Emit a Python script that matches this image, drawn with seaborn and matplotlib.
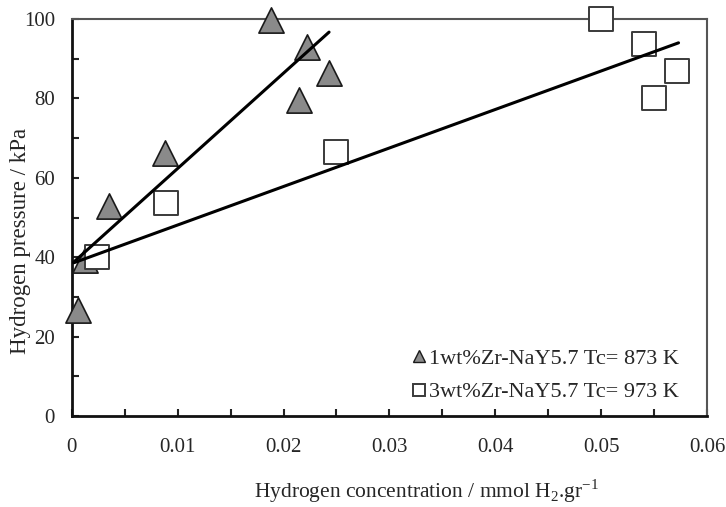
import matplotlib
matplotlib.use("Agg")
import matplotlib.pyplot as plt
import seaborn as sns
import pandas as pd
from matplotlib.ticker import FixedLocator, MultipleLocator
from matplotlib.lines import Line2D

sns.set_style("ticks")
plt.rcParams["font.family"] = ["Liberation Serif", "DejaVu Serif"]
plt.rcParams["mathtext.fontset"] = "custom"
plt.rcParams["mathtext.rm"] = "Liberation Serif"

# 1wt% Zr-NaY (Tc = 873 K)
conc_1wt = [0.0006, 0.0013, 0.0035, 0.0088, 0.0188, 0.0215, 0.0222, 0.0243]
pres_1wt = [26.7, 39.3, 53.0, 66.3, 99.8, 79.7, 93.0, 86.5]
# 3wt% Zr-NaY (Tc = 973 K)
conc_3wt = [0.0024, 0.0089, 0.0250, 0.0500, 0.0540, 0.0550, 0.0572]
pres_3wt = [40.0, 53.6, 66.6, 100.0, 93.6, 80.0, 87.0]

# linear trend lines (end points)
fit_x_1wt = [0.0002, 0.0243]
fit_y_1wt = [38.8, 96.7]
fit_x_3wt = [0.0002, 0.0573]
fit_y_3wt = [38.6, 94.0]

x_ticks = [0, 0.01, 0.02, 0.03, 0.04, 0.05, 0.06]
x_tick_labels = ["0", "0.01", "0.02", "0.03", "0.04", "0.05", "0.06"]
y_ticks = [0, 20, 40, 60, 80, 100]

label_1wt = "1wt%Zr-NaY5.7 Tc= 873 K"
label_3wt = "3wt%Zr-NaY5.7 Tc= 973 K"

df1 = pd.DataFrame({"x": conc_1wt, "y": pres_1wt})
df3 = pd.DataFrame({"x": conc_3wt, "y": pres_3wt})

fig = plt.figure(figsize=(7.26, 5.07), dpi=100)
ax = fig.add_axes([0.0988, 0.1795, 0.8752, 0.783])

sns.scatterplot(data=df1, x="x", y="y", marker="^", s=330, color="#8a8a8a",
                edgecolor="#1a1a1a", linewidth=1.2, ax=ax, zorder=3, clip_on=False)
sns.scatterplot(data=df3, x="x", y="y", marker="s", s=300, color="white",
                edgecolor="#3a3a3a", linewidth=1.4, ax=ax, zorder=3, clip_on=False)
sns.lineplot(x=fit_x_1wt, y=fit_y_1wt, color="black", linewidth=2.2, ax=ax, zorder=4)
sns.lineplot(x=fit_x_3wt, y=fit_y_3wt, color="black", linewidth=2.2, ax=ax, zorder=4)

ax.set_xlim(0, 0.06)
ax.set_ylim(0, 100)
ax.xaxis.set_major_locator(FixedLocator(x_ticks))
ax.set_xticklabels(x_tick_labels)
ax.xaxis.set_minor_locator(MultipleLocator(0.005))
ax.yaxis.set_major_locator(FixedLocator(y_ticks))
ax.set_yticklabels([str(v) for v in y_ticks])
ax.yaxis.set_minor_locator(MultipleLocator(10))
ax.tick_params(axis="both", which="both", direction="in", length=5, width=1.5,
               color="#222222", labelsize=15)
ax.tick_params(axis="x", which="both", pad=16)
ax.tick_params(axis="y", which="both", pad=12)

for side in ["left", "bottom"]:
    ax.spines[side].set_linewidth(2.0)
    ax.spines[side].set_color("#111111")
for side in ["top", "right"]:
    ax.spines[side].set_visible(True)
    ax.spines[side].set_linewidth(1.5)
    ax.spines[side].set_color("#555555")

ax.set_xlabel("Hydrogen concentration / mmol H$_2$.gr$^{\\mathregular{-1}}$",
              fontsize=15.5)
ax.xaxis.set_label_coords(0.559, -0.155)
ax.set_ylabel("Hydrogen pressure / kPa", fontsize=16.5)
ax.yaxis.set_label_coords(-0.064, 0.44)

handles = [
    Line2D([], [], marker="^", linestyle="none", markersize=8,
           markerfacecolor="#8a8a8a", markeredgecolor="#1a1a1a"),
    Line2D([], [], marker="s", linestyle="none", markersize=8,
           markerfacecolor="white", markeredgecolor="#3a3a3a", markeredgewidth=1.4),
]
ax.legend(handles, [label_1wt, label_3wt], loc="lower right", frameon=False,
          fontsize=16, handletextpad=0.0, handlelength=0.9, labelspacing=0.6,
          borderaxespad=0.3, bbox_to_anchor=(0.98, -0.005))

fig.savefig("out.png", dpi=100)
